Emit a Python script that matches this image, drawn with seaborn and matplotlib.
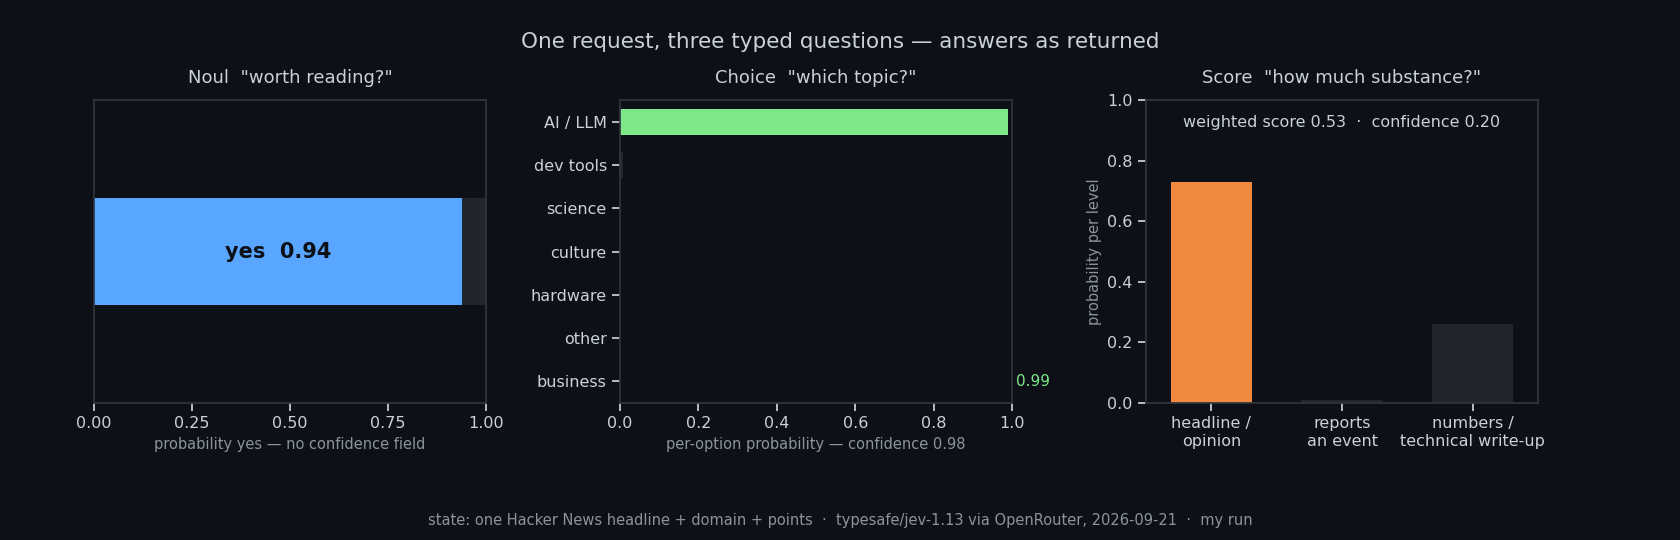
import matplotlib
matplotlib.use("Agg")
import matplotlib.pyplot as plt
import seaborn as sns
import pandas as pd

BG = "#0d1017"
FG = "#c9d1d9"
MUTED = "#8b949e"
EDGE = "#30363d"
GREY = "#21262d"

# data
p_yes = 0.94
topics = ["AI / LLM", "dev tools", "science", "culture", "hardware", "other", "business"]
topic_probs = [0.99, 0.008, 0.0, 0.0, 0.0, 0.0, 0.0]
levels = ["headline /\nopinion", "reports\nan event", "numbers /\ntechnical write-up"]
level_probs = [0.73, 0.01, 0.26]

sns.set_theme(style="dark")
plt.rcParams.update({
    "figure.facecolor": BG, "axes.facecolor": BG, "axes.edgecolor": EDGE,
    "text.color": FG, "xtick.color": FG, "ytick.color": FG, "axes.labelcolor": MUTED,
    "xtick.bottom": True, "ytick.left": True,
})
plt.rcParams["font.family"] = ["DejaVu Sans"]

fig = plt.figure(figsize=(16.8, 5.4), dpi=100)
ax1 = fig.add_axes([94/1680, 137/540, 392/1680, 303/540])
ax2 = fig.add_axes([620/1680, 137/540, 392/1680, 303/540])
ax3 = fig.add_axes([1146/1680, 137/540, 392/1680, 303/540])

# Panel 1
ax1.barh([0], [1.0], color=GREY, height=0.7, linewidth=0)
ax1.barh([0], [p_yes], color="#58a6ff", height=0.7, linewidth=0)
ax1.text(p_yes / 2, 0, f"yes  {p_yes:.2f}", ha="center", va="center",
         fontsize=15, fontweight="bold", color="#0d1117")
ax1.set_xlim(0, 1)
ax1.set_ylim(-1, 1)
ax1.set_yticks([])
ax1.set_xticks([0, 0.25, 0.5, 0.75, 1.0])
ax1.set_title('Noul  "worth reading?"', color=FG, fontsize=13, pad=12)
ax1.set_xlabel("probability yes — no confidence field", fontsize=10.5)

# Panel 2
df = pd.DataFrame({"topic": topics, "p": topic_probs})
colors = ["#7ee787"] + [GREY] * (len(topics) - 1)
sns.barplot(data=df, y="topic", x="p", hue="topic", palette=colors, legend=False,
            ax=ax2, orient="h", width=0.6, saturation=1, linewidth=0)
ax2.set_xlim(0, 1)
ax2.set_ylabel("")
ax2.set_xlabel("per-option probability — confidence 0.98", fontsize=10.5)
ax2.text(1.01, len(topics) - 1, f"{topic_probs[0]:.2f}", color="#7ee787",
         fontsize=11, va="center", ha="left")
ax2.set_title('Choice  "which topic?"', color=FG, fontsize=13, pad=12)

# Panel 3
df3 = pd.DataFrame({"level": levels, "p": level_probs})
sns.barplot(data=df3, x="level", y="p", hue="level", saturation=1, linewidth=0,
            palette=["#f0883e", GREY, GREY], legend=False, ax=ax3, width=0.62)
ax3.set_ylim(0, 1)
ax3.set_xlabel("")
ax3.set_ylabel("probability per level", fontsize=10.5)
ax3.text(0.5, 0.925, "weighted score 0.53  ·  confidence 0.20", transform=ax3.transAxes,
         ha="center", va="center", fontsize=11.5, color=FG)
ax3.set_title('Score  "how much substance?"', color=FG, fontsize=13, pad=12)

for ax in (ax1, ax2, ax3):
    ax.tick_params(labelsize=11.5, colors=FG)
    for s in ax.spines.values():
        s.set_color(EDGE)
        s.set_visible(True)
    ax.grid(False)

fig.suptitle("One request, three typed questions — answers as returned",
             y=0.94, fontsize=15.5, color=FG)
fig.text(0.5, 0.028, "state: one Hacker News headline + domain + points  ·  typesafe/jev-1.13 via OpenRouter, 2026-09-21  ·  my run",
         ha="center", fontsize=10.5, color=MUTED)

fig.savefig("out.png", dpi=100, facecolor=BG)
